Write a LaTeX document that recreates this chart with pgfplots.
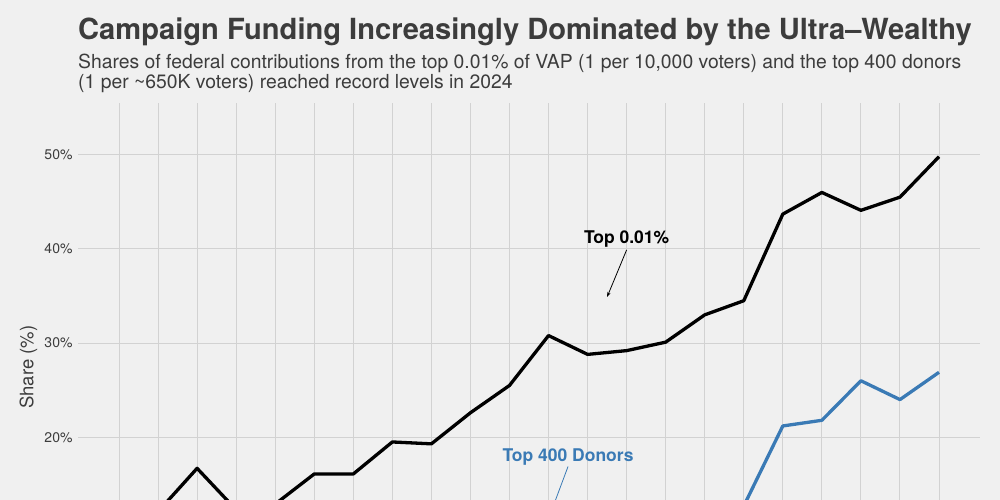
\documentclass[border=0pt]{standalone}
\usepackage{fontspec}
\setmainfont{TeX Gyre Heros}
\usepackage{pgfplots}
\pgfplotsset{compat=1.18}
\usetikzlibrary{arrows.meta}

\definecolor{bg}{HTML}{F0F0F0}
\definecolor{gridc}{HTML}{D2D2D2}
\definecolor{txt}{HTML}{3C3C3C}
\definecolor{donor}{HTML}{3A7AB5}

\begin{document}
\begin{tikzpicture}[x=1bp,y=1bp]
\useasboundingbox (0,0) rectangle (1000,-500);
\fill[bg] (0,0) rectangle (1000,-500);
\clip (0,0) rectangle (1000,-500);

% titles
\node[anchor=base west, inner sep=0, text=txt, font=\fontsize{29.1bp}{32bp}\selectfont\bfseries]
  at (78,-39.8) {Campaign Funding Increasingly Dominated by the Ultra--Wealthy};
\node[anchor=base west, inner sep=0, text=txt, font=\fontsize{19.35bp}{22bp}\selectfont]
  at (78,-68.6) {Shares of federal contributions from the top 0.01\% of VAP (1 per 10,000 voters) and the top 400 donors};
\node[anchor=base west, inner sep=0, text=txt, font=\fontsize{19.35bp}{22bp}\selectfont]
  at (78,-89) {(1 per \textasciitilde650K voters) reached record levels in 2024};

\begin{axis}[
    scale only axis,
    width=902bp, height=528.2bp,
    at={(78bp,-103bp)}, anchor=north west,
    xmin=1979.9, xmax=2026.1,
    ymin=-0.6, ymax=55.5,
    axis line style={draw=none},
    tick style={draw=none},
    xtick={1982,1984,...,2024},
    xticklabels={},
    ytick={0,10,20,30,40,50},
    yticklabel={\pgfmathprintnumber{\tick}\%},
    /pgf/number format/assume math mode=true,
    yticklabel style={text=txt, font=\fontsize{14bp}{16bp}\selectfont, xshift=-2bp},
    grid=major,
    major grid style={draw=gridc, line width=1bp},
    ylabel={Share (\%)},
    ylabel style={at={(axis description cs:-0.055,0.5)}, anchor=center,
                  text=txt, font=\fontsize{18.5bp}{20bp}\selectfont},
]
% top 0.01% of VAP
\addplot[black, line width=3.3bp, line join=round] coordinates {
 (1982,10.5) (1984,12.1) (1986,16.7) (1988,12.3) (1990,12.9) (1992,16.1)
 (1994,16.1) (1996,19.5) (1998,19.3) (2000,22.6) (2002,25.5) (2004,30.8)
 (2006,28.8) (2008,29.2) (2010,30.1) (2012,33.0) (2014,34.5) (2016,43.7)
 (2018,46.0) (2020,44.1) (2022,45.5) (2024,49.8)
};
% top 400 donors
\addplot[donor, line width=3.3bp, line join=round] coordinates {
 (1982,3.5) (1984,4.0) (1986,5.5) (1988,4.0) (1990,4.2) (1992,5.0)
 (1994,4.8) (1996,6.0) (1998,5.6) (2000,7.0) (2002,8.0) (2004,9.5)
 (2006,8.6) (2008,8.9) (2010,9.5) (2012,11.0) (2014,12.7) (2016,21.2)
 (2018,21.8) (2020,26.0) (2022,24.0) (2024,26.9)
};

\node[font=\fontsize{17.5bp}{20bp}\selectfont\bfseries, text=black]
  at (axis cs:2008,41.0) {Top 0.01\%};
\draw[black, line width=0.8bp, -{Stealth[length=5bp,width=3.5bp]}]
  (axis cs:2008,39.9) -- (axis cs:2007,34.9);
\node[font=\fontsize{17.5bp}{20bp}\selectfont\bfseries, text=donor]
  at (axis cs:2005,17.9) {Top 400 Donors};
\draw[donor, line width=0.8bp, -{Stealth[length=5bp,width=3.5bp]}]
  (axis cs:2005,16.9) -- (axis cs:2004.1,11.9);
\end{axis}
\end{tikzpicture}
\end{document}
